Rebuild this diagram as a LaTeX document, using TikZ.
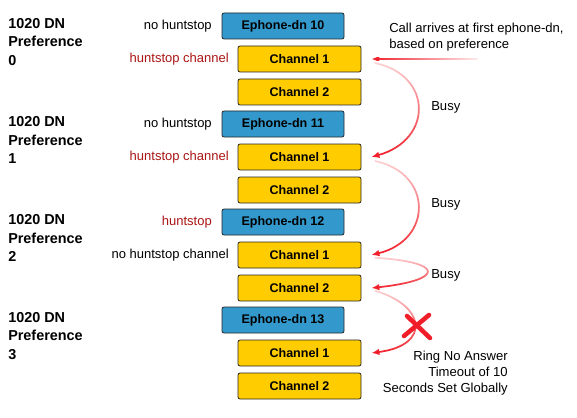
\documentclass[tikz,border=0pt]{standalone}
\usepackage{fontspec}
\setmainfont{Liberation Sans}
\usetikzlibrary{arrows.meta,fadings}
\definecolor{dnblue}{RGB}{51,153,204}
\definecolor{chyellow}{RGB}{255,204,0}
\definecolor{lblred}{RGB}{170,20,20}
\definecolor{arrred}{RGB}{240,30,40}
\tikzfading[name=tailfade, top color=transparent!80, bottom color=transparent!0]
\tikzfading[name=sidefade, left color=transparent!0, right color=transparent!92]
\tikzset{
  dnbox/.style={draw=black!85, fill=dnblue, rounded corners=1.5pt, line width=0.6pt,
    minimum width=122*0.75pt, minimum height=26*0.75pt, inner sep=0pt,
    font=\fontsize{9.4}{11}\selectfont\bfseries},
  chbox/.style={draw=black!85, fill=chyellow, rounded corners=1.5pt, line width=0.6pt,
    minimum width=123*0.75pt, minimum height=26*0.75pt, inner sep=0pt,
    font=\fontsize{9.4}{11}\selectfont\bfseries},
  pref/.style={anchor=west, align=left, inner sep=0pt,
    font=\fontsize{10.8}{13.9}\selectfont\bfseries},
  side/.style={anchor=east, inner sep=0pt, font=\fontsize{9.75}{11}\selectfont},
  redside/.style={side, text=lblred},
  note/.style={inner sep=0pt, font=\fontsize{9.8}{12}\selectfont},
  hop/.style={draw=arrred, line width=1.3pt, -{Latex[length=6pt,width=5pt]}},
}
\begin{document}
\begin{tikzpicture}[x=0.75pt,y=-0.75pt]
\useasboundingbox (0,0) rectangle (577,417);
% groups
\foreach \g/\y/\n in {0/26/10, 1/124/11, 2/222/12, 3/320/13}{
  \node[dnbox] (dn\g) at (283,\y) {Ephone-dn \n};
  \node[chbox] (ca\g) at (299.5,\y+33) {Channel 1};
  \node[chbox] (cb\g) at (299.5,\y+66) {Channel 2};
  \node[pref] (p\g) at (8,\y+16) {1020 DN\\Preference\\\g};
}
% side labels
\node[side] (s0a) at (212,26) {no huntstop};
\node[redside] (s0b) at (229,59) {huntstop channel};
\node[side] (s1a) at (212,124) {no huntstop};
\node[redside] (s1b) at (229,157) {huntstop channel};
\node[redside] (s2a) at (212,222) {huntstop};
\node[side] (s2b) at (229,255) {no huntstop channel};
% notes
\node[note, anchor=north west, align=left] (call) at (389,23) {Call arrives at first ephone-dn,\\based on preference};
\node[note, anchor=west] (busy1) at (431,107) {Busy};
\node[note, anchor=west] (busy2) at (431,204) {Busy};
\node[note, anchor=west] (busy3) at (431,275) {Busy};
\node[note, anchor=north east, align=right] (rna) at (508,351) {Ring No Answer\\Timeout of 10\\Seconds Set Globally};
\coordinate (callstart) at (478,59);
% arrows
\draw[hop, path fading=sidefade] (callstart) -- ([xshift=7.5pt]ca0.east);
\draw[hop, path fading=tailfade] ([xshift=10pt,yshift=-3pt]ca0.east) .. controls (433,75) and (433,140) .. ([xshift=7.5pt]ca1.east);
\draw[hop, path fading=tailfade] ([xshift=10pt,yshift=-3pt]ca1.east) .. controls (433,173) and (433,240) .. ([xshift=7.5pt]ca2.east);
\draw[hop, path fading=tailfade] ([xshift=10pt,yshift=-2pt]ca2.east) .. controls (445,262) and (445,280) .. ([xshift=7.5pt]cb2.east);
\draw[hop, path fading=tailfade] ([xshift=10pt,yshift=-2pt]cb2.east) .. controls (425,305) and (432,345) .. ([xshift=7.5pt]ca3.east);
% red X
\draw[arrred, line width=3.4pt, line cap=round] (407,316) -- (430,338);
\draw[arrred, line width=3.4pt, line cap=round] (429,315) -- (404,336);
\end{tikzpicture}
\end{document}
